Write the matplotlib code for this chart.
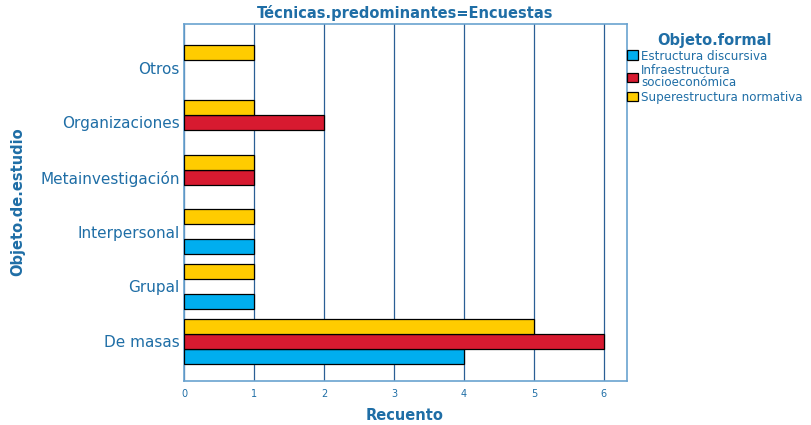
import matplotlib
matplotlib.use("Agg")
import matplotlib.pyplot as plt
import numpy as np
from matplotlib.patches import Patch

categories = ["De masas", "Grupal", "Interpersonal", "Metainvestigación", "Organizaciones", "Otros"]
series_names = ["Estructura discursiva", "Infraestructura\nsocioeconómica", "Superestructura normativa"]
estructura = [4, 1, 1, 0, 0, 0]
infraestructura = [6, 0, 0, 1, 2, 0]
superestructura = [5, 1, 1, 1, 1, 1]
colors = ["#00aeef", "#d71a30", "#ffcc00"]
xticks = [0, 1, 2, 3, 4, 5, 6]

txt = "#1f6ea6"
grid_c = "#2a5f95"
spine_c = "#6aa3d0"

fig = plt.figure(figsize=(8.11, 4.25), dpi=100)
ax = fig.add_axes([184/811, 1-381/425, (627-184)/811, (381-24)/425])

y = np.arange(len(categories))
h = 0.275
offsets = [-h, 0, h]
for vals, off, col in zip([estructura, infraestructura, superestructura], offsets, colors):
    vals = np.array(vals, dtype=float)
    m = vals > 0
    ax.barh(y[m] + off, vals[m], height=h, color=col, edgecolor="black", linewidth=0.9, zorder=3)

ax.set_xlim(0, 6.33)
ax.set_ylim(-0.73, 5.8)
ax.set_xticks(xticks)
ax.set_xticklabels([str(t) for t in xticks], fontsize=7, color=txt)
ax.set_yticks(y)
ax.set_yticklabels(categories, fontsize=11, color=txt)
ax.tick_params(axis="y", length=0, pad=3)
ax.tick_params(axis="x", length=0, pad=6)
ax.grid(axis="x", color=grid_c, linewidth=0.9, zorder=1)
for s in ax.spines.values():
    s.set_color(spine_c)
    s.set_linewidth(1.2)

ax.set_title("Técnicas.predominantes=Encuestas", fontsize=10.5, fontweight="bold", color=txt, pad=4)
fig.text(405/811, 1-415/425, "Recuento", fontsize=10.5, fontweight="bold", color=txt,
         ha="center", va="center")
fig.text(18/811, 1-202/425, "Objeto.de.estudio", fontsize=10.5, fontweight="bold", color=txt,
         ha="center", va="center", rotation=90)

handles = [Patch(facecolor=c, edgecolor="black", linewidth=0.9) for c in colors]
leg = fig.legend(handles, series_names, loc="upper left", bbox_to_anchor=(622/811, 1-28/425),
                 frameon=False, fontsize=8.6, title="Objeto.formal",
                 title_fontproperties={"size": 10.5, "weight": "bold"},
                 handlelength=0.9, handleheight=0.9, handletextpad=0.3,
                 labelspacing=0.15, borderaxespad=0)
leg.get_title().set_color(txt)
for t in leg.get_texts():
    t.set_color(txt)
    t.set_linespacing(0.85)

fig.savefig("out.png", dpi=100)
